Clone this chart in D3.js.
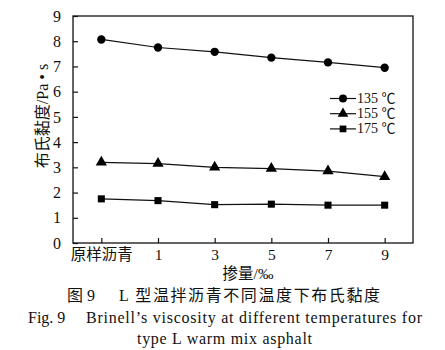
<!DOCTYPE html>
<html><head><meta charset="utf-8">
<script src="https://cdn.jsdelivr.net/npm/d3@7"></script>
<style>
body{margin:0;background:#fff;}
text{font-family:"Liberation Serif","Times New Roman","Noto Sans CJK SC",serif;fill:#111;}
</style></head>
<body><svg id="c" width="445" height="350"></svg>
<script>
const categories = ["原样沥青","1","3","5","7","9"];
const s135 = [8.07, 7.75, 7.58, 7.35, 7.16, 6.95];
const s155 = [3.2, 3.15, 3.0, 2.95, 2.85, 2.63];
const s175 = [1.75, 1.68, 1.52, 1.54, 1.5, 1.5];
const seriesNames = ["135 ℃","155 ℃","175 ℃"];
const yTicks = [0,1,2,3,4,5,6,7,8,9];

const svg = d3.select("#c");
const L=73, R=413, T=16, B=243;
const x = d3.scalePoint().domain(categories).range([L,R]).padding(0.5);
const y = d3.scaleLinear().domain([0,9]).range([B,T]);

const series = [
  {name:seriesNames[0], values:s135, sym:d3.symbolCircle, size:55},
  {name:seriesNames[1], values:s155, sym:d3.symbolTriangle, size:55},
  {name:seriesNames[2], values:s175, sym:d3.symbolSquare, size:50}
];

// frame
svg.append("rect").attr("x",L).attr("y",T).attr("width",R-L).attr("height",B-T)
  .attr("fill","none").attr("stroke","#111").attr("stroke-width",1.3);

// y axis (ticks inside)
const yAx = svg.append("g").attr("transform",`translate(${L},0)`)
  .call(d3.axisLeft(y).tickValues(yTicks).tickSize(-5).tickPadding(12).tickFormat(d3.format("d")));
yAx.select(".domain").remove();
yAx.selectAll("line").attr("stroke","#111").attr("stroke-width",1.2);
yAx.selectAll("text").attr("font-size",16).attr("font-family","Liberation Serif").attr("fill","#111");

// x axis (ticks inside)
const xAx = svg.append("g").attr("transform",`translate(0,${B})`)
  .call(d3.axisBottom(x).tickSize(-5).tickPadding(6));
xAx.select(".domain").remove();
xAx.selectAll("line").attr("stroke","#111").attr("stroke-width",1.2);
xAx.selectAll("text").attr("font-size",15.5).attr("fill","#111")
  .attr("font-family",d=>/[0-9]/.test(d)?"Liberation Serif":"Noto Sans CJK SC");

// lines & markers
const line = d3.line().x((d,i)=>x(categories[i])).y(d=>y(d));
series.forEach(s=>{
  svg.append("path").datum(s.values).attr("d",line).attr("fill","none")
    .attr("stroke","#111").attr("stroke-width",1.2);
  svg.selectAll(null).data(s.values).enter().append("path")
    .attr("transform",(d,i)=>`translate(${x(categories[i])},${y(d)})`)
    .attr("d",d3.symbol().type(s.sym).size(s.size)).attr("fill","#000");
});

// legend
const lg = svg.append("g");
series.forEach((s,i)=>{
  const yy = 98.5 + i*15.2;
  lg.append("line").attr("x1",330).attr("x2",356).attr("y1",yy).attr("y2",yy)
    .attr("stroke","#111").attr("stroke-width",1.2);
  lg.append("path").attr("transform",`translate(343,${yy})`)
    .attr("d",d3.symbol().type(s.sym).size(s.size-5)).attr("fill","#000");
  lg.append("text").attr("x",357).attr("y",yy+4.5).attr("font-size",14).text(s.name);
});

// axis titles
svg.append("text").attr("transform","translate(48,116) rotate(-90)")
  .attr("text-anchor","middle").attr("font-size",16)
  .html('<tspan font-family="Noto Sans CJK SC">布氏黏度</tspan><tspan>/Pa • s</tspan>');
svg.append("text").attr("x",248).attr("y",279).attr("text-anchor","middle").attr("font-size",15.5)
  .html('<tspan font-family="Noto Sans CJK SC">掺量</tspan><tspan>/‰</tspan>');

// captions
svg.append("text").attr("x",67).attr("y",301).attr("font-size",16).attr("font-family","Noto Sans CJK SC").text("图 9");
svg.append("text").attr("x",119).attr("y",301).attr("font-size",16).attr("font-family","Noto Sans CJK SC")
  .attr("textLength",261).text("L 型温拌沥青不同温度下布氏黏度");
svg.append("text").attr("x",28).attr("y",323).attr("font-size",16).text("Fig. 9");
svg.append("text").attr("x",86).attr("y",323).attr("font-size",16).attr("textLength",336)
  .text("Brinell’s viscosity at different temperatures for");
svg.append("text").attr("x",137).attr("y",344).attr("font-size",16).attr("textLength",175)
  .text("type L warm mix asphalt");
</script></body></html>
